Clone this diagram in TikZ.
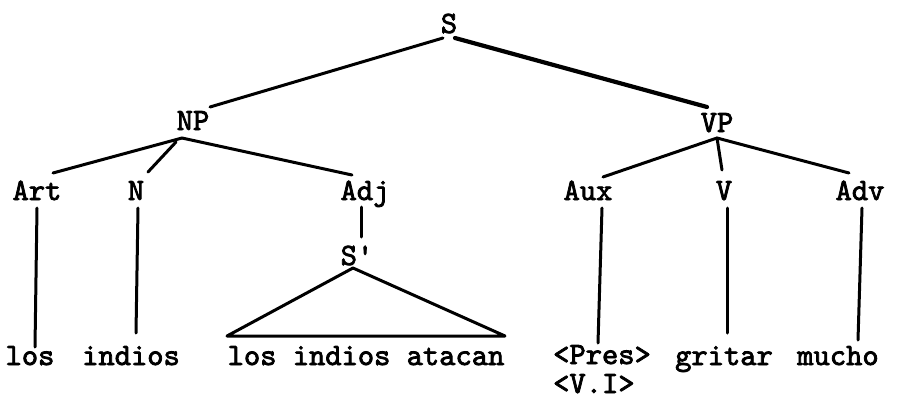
\documentclass[tikz,border=0pt]{standalone}
\usepackage{fontspec}
\newfontfamily\twfont{lmmono10-regular}[Extension=.otf, FakeBold=2.5]
\begin{document}
\begin{tikzpicture}[x=1pt,y=-1pt,
  lbl/.style={font=\twfont\fontsize{31}{34}\selectfont, inner sep=0pt, anchor=base},
  lblw/.style={lbl, anchor=base west},
  edge/.style={line width=3pt, line cap=round},
  thick edge/.style={line width=4.2pt, line cap=round}]
\useasboundingbox[fill=white] (0,0) rectangle (902,399);
% labels
\node[lbl] (S) at (449,33) {S};
\node[lbl] (NP) at (193,130) {NP};
\node[lbl] (VP) at (717,132) {VP};
\node[lbl] (Art) at (37,200) {Art};
\node[lbl] (N) at (136,200) {N};
\node[lbl] (Adj) at (365,200) {Adj};
\node[lbl] (Aux) at (588,200) {Aux};
\node[lbl] (V) at (724,200) {V};
\node[lbl] (Adv) at (860,200) {Adv};
\node[lbl] (Sp) at (357,265) {S'};
\node[lbl] (los) at (30,365) {los};
\node[lbl] (indios) at (131,365) {indios};
\node[lbl] (lia) at (366,365) {los indios atacan};
\node[lblw] (Pres) at (553,364) {<Pres>};
\node[lblw] (VI) at (553,393) {<V.I>};
\node[lbl] (gritar) at (724,365) {gritar};
\node[lbl] (mucho) at (838,365) {mucho};
% connector endpoints
\coordinate (S-l) at (443,38);
\coordinate (S-r) at (455,38);
\coordinate (NP-t) at (210,107);
\coordinate (VP-t) at (707,107);
\coordinate (NP-b) at (182,138);
\coordinate (NP-bn) at (176,142);
\coordinate (Art-t) at (53,173);
\coordinate (N-t) at (148,172);
\coordinate (Adj-t) at (352,175);
\coordinate (VP-b) at (717,138);
\coordinate (Aux-t) at (603,177);
\coordinate (V-t) at (722,170);
\coordinate (Adv-t) at (849,173);
\coordinate (Art-b) at (37,208);
\coordinate (los-t) at (35,347);
\coordinate (N-b) at (138,208);
\coordinate (indios-t) at (136,333);
\coordinate (Adj-b) at (361,207);
\coordinate (Sp-t) at (361,237);
\coordinate (Aux-b) at (602,208);
\coordinate (Pres-t) at (598,343);
\coordinate (V-b) at (727,208);
\coordinate (gritar-t) at (727,333);
\coordinate (Adv-b) at (862,208);
\coordinate (mucho-t) at (858,340);
\coordinate (apex) at (353,268);
\coordinate (base-l) at (227,336);
\coordinate (base-r) at (505,336);
% connectors
\draw[edge] (S-l) -- (NP-t);
\draw[thick edge] (S-r) -- (VP-t);
\draw[edge] (NP-b) -- (Art-t);
\draw[edge] (NP-bn) -- (N-t);
\draw[edge] (NP-b) -- (Adj-t);
\draw[edge] (VP-b) -- (Aux-t);
\draw[edge] (VP-b) -- (V-t);
\draw[edge] (VP-b) -- (Adv-t);
\draw[edge] (Art-b) -- (los-t);
\draw[edge] (N-b) -- (indios-t);
\draw[edge] (Adj-b) -- (Sp-t);
\draw[edge] (Aux-b) -- (Pres-t);
\draw[edge] (V-b) -- (gritar-t);
\draw[edge] (Adv-b) -- (mucho-t);
\draw[edge, line join=round] (apex) -- (base-l) -- (base-r) -- cycle;
\end{tikzpicture}
\end{document}
